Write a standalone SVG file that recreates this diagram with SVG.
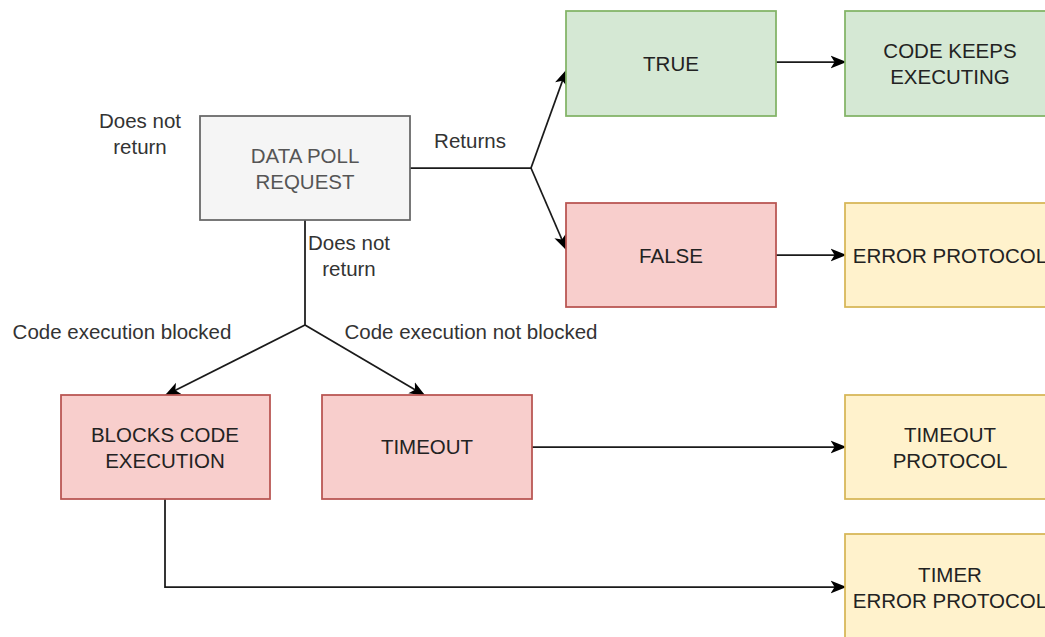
<svg xmlns="http://www.w3.org/2000/svg" width="1045" height="637" viewBox="0 0 1045 637">
  <style>
    text { font-family: "Liberation Sans", Arial, sans-serif; font-size: 20.5px; text-anchor: middle; dominant-baseline: central; fill: #222222; }
    .lbl { fill: #333333; }
    .gray rect { fill: #f5f5f5; stroke: #666666; stroke-width: 1.75; }
    .gray text { fill: #555555; }
    .green rect { fill: #d5e8d4; stroke: #82b366; stroke-width: 1.75; }
    .red rect { fill: #f8cecc; stroke: #b85450; stroke-width: 1.75; }
    .yellow rect { fill: #fff2cc; stroke: #d6b656; stroke-width: 1.75; }
    .edge { fill: none; stroke: #1a1a1a; stroke-width: 1.75; }
    .arrow { marker-end: url(#head); }
  </style>
  <defs>
    <marker id="head" viewBox="0 0 10 10" refX="9" refY="5" markerWidth="16" markerHeight="16" markerUnits="userSpaceOnUse" orient="auto">
      <path d="M0,1 L10,5 L0,9 L2.5,5 Z" fill="#000000"/>
    </marker>
  </defs>

  <!-- connectors -->
  <g id="connectors">
    <path class="edge" d="M410,168 H531"/>
    <path class="edge arrow" d="M531,168 L566,71"/>
    <path class="edge arrow" d="M531,168 L566,249"/>
    <path class="edge arrow" d="M776,62 H845"/>
    <path class="edge arrow" d="M776,255 H845"/>
    <path class="edge" d="M305,220 V325"/>
    <path class="edge arrow" d="M305,325 L166,395"/>
    <path class="edge arrow" d="M305,325 L424,395"/>
    <path class="edge arrow" d="M532,447 H845"/>
    <path class="edge arrow" d="M165,499 V587 H845"/>
  </g>

  <!-- edge labels -->
  <g id="labels">
    <text class="lbl" x="140" y="120">Does not</text>
    <text class="lbl" x="140" y="146">return</text>
    <text class="lbl" x="470" y="140">Returns</text>
    <text class="lbl" x="349" y="242">Does not</text>
    <text class="lbl" x="349" y="268">return</text>
    <text class="lbl" x="122" y="331">Code execution blocked</text>
    <text class="lbl" x="471" y="331">Code execution not blocked</text>
  </g>

  <g id="data-poll" class="gray">
    <rect x="200" y="116" width="210" height="104"/>
    <text x="305" y="155">DATA POLL</text>
    <text x="305" y="181">REQUEST</text>
  </g>

  <g id="true" class="green">
    <rect x="566" y="11" width="210" height="105"/>
    <text x="671" y="63">TRUE</text>
  </g>

  <g id="false" class="red">
    <rect x="566" y="203" width="210" height="104"/>
    <text x="671" y="255">FALSE</text>
  </g>

  <g id="code-keeps" class="green">
    <rect x="845" y="11" width="210" height="105"/>
    <text x="950" y="50">CODE KEEPS</text>
    <text x="950" y="76">EXECUTING</text>
  </g>

  <g id="error-protocol" class="yellow">
    <rect x="845" y="203" width="210" height="104"/>
    <text x="950" y="255">ERROR PROTOCOL</text>
  </g>

  <g id="blocks" class="red">
    <rect x="61" y="395" width="209" height="104"/>
    <text x="165" y="434">BLOCKS CODE</text>
    <text x="165" y="460">EXECUTION</text>
  </g>

  <g id="timeout" class="red">
    <rect x="322" y="395" width="210" height="104"/>
    <text x="427" y="446">TIMEOUT</text>
  </g>

  <g id="timeout-protocol" class="yellow">
    <rect x="845" y="395" width="210" height="104"/>
    <text x="950" y="434">TIMEOUT</text>
    <text x="950" y="460">PROTOCOL</text>
  </g>

  <g id="timer-error" class="yellow">
    <rect x="845" y="534" width="210" height="110"/>
    <text x="950" y="574">TIMER</text>
    <text x="950" y="600">ERROR PROTOCOL</text>
  </g>
</svg>
